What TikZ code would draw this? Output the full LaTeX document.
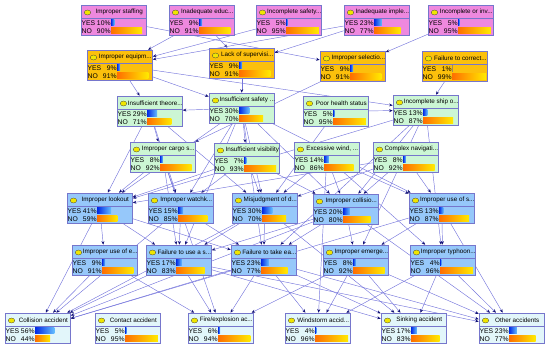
\documentclass[tikz,border=0pt]{standalone}
\usepackage{fontspec}
\setmainfont{Liberation Sans}
\usetikzlibrary{arrows.meta,shapes.geometric,backgrounds}
\definecolor{bnPink}  {RGB}{238,136,222}
\definecolor{bnOrange}{RGB}{252,192, 12}
\definecolor{bnGreen} {RGB}{204,246,212}
\definecolor{bnBlue}  {RGB}{150,200,250}
\definecolor{bnCyan}  {RGB}{226,246,250}
\definecolor{bnFrame} {RGB}{118,118,204}
\definecolor{bnEdge}  {RGB}{118,118,220}
\definecolor{bnTip}   {RGB}{ 20, 20,120}
\definecolor{bnBulb}  {RGB}{240,230,  0}
\definecolor{bnYesL}  {RGB}{  0, 40,230}
\definecolor{bnYesR}  {RGB}{100,190,255}
\definecolor{bnNoL}   {RGB}{255,110,  0}
\definecolor{bnNoR}   {RGB}{255,235,  0}

% #1 name, #2/#3 top-left corner, #4 fill, #5 title, #6 yes, #7 no
\newcommand{\bnnode}[7]{%
  \node[bnbox,fill=#4] (#1) at (#2+32.75,-#3-15.25) {};
  \draw[bnsep] (#2,-#3-13.5) -- (#2+65.5,-#3-13.5);
  \node[bulb] at (#2+6.5,-#3-7.5) {};
  \node[bntitle] at (#2+38.3,-#3-6.8) {#5};
  \node[bnval,anchor=west] at (#2+0.4,-#3-18) {YES};
  \node[bnval,anchor=east] at (#2+29.8,-#3-18) {#6\%};
  \node[bnval,anchor=west] at (#2+0.4,-#3-26) {NO};
  \node[bnval,anchor=east] at (#2+29.8,-#3-26) {#7\%};
  \path[yesbar] (#2+30,-#3-15) rectangle (#2+30+#6*0.345,-#3-21);
  \path[nobar] (#2+30,-#3-23) rectangle (#2+30+#7*0.345,-#3-29);
}

\begin{document}
\begin{tikzpicture}[x=1pt,y=1pt,
  bnbox/.style ={draw=bnFrame,line width=0.6pt,inner sep=0pt,
                 minimum width=65.5pt,minimum height=30.5pt},
  bnsep/.style ={draw=bnFrame,line width=0.5pt},
  bulb/.style  ={ellipse,draw=black!75,fill=bnBulb,line width=0.3pt,
                 inner sep=0pt,minimum width=6.5pt,minimum height=5pt},
  bntitle/.style={font=\fontsize{6.3}{7}\selectfont,inner sep=0pt},
  bnval/.style ={font=\fontsize{6.8}{7}\selectfont,inner sep=0pt},
  yesbar/.style={left color=bnYesL,right color=bnYesR},
  nobar/.style ={left color=bnNoL,right color=bnNoR},
  link/.style  ={draw=bnEdge,line width=0.45pt,
                 -{Stealth[length=3.6pt,width=3pt,color=bnTip]}}
]
\useasboundingbox (0,0) rectangle (550,-350);

% root causes
\bnnode{staff}{81}{5}{bnPink}{Improper staffing}{10}{90}
\bnnode{educ}{169}{5}{bnPink}{Inadequate educ...}{9}{91}
\bnnode{safe}{256}{5}{bnPink}{Incomplete safety...}{5}{95}
\bnnode{impl}{344}{5}{bnPink}{Inadequate imple...}{23}{77}
\bnnode{inv}{428}{5}{bnPink}{Incomplete or inv...}{5}{95}
% management
\bnnode{equip}{87}{50}{bnOrange}{Improper equipm...}{9}{91}
\bnnode{superv}{209}{48}{bnOrange}{Lack of supervisi...}{9}{91}
\bnnode{select}{320}{51}{bnOrange}{Improper selectio...}{9}{91}
\bnnode{correct}{422}{51}{bnOrange}{Failure to correct...}{1}{99}
% crew, ship and environment
\bnnode{theory}{117}{96}{bnGreen}{Insufficient theore...}{29}{71}
\bnnode{safety}{209}{93}{bnGreen}{Insufficient safety ...}{30}{70}
\bnnode{health}{303}{96}{bnGreen}{Poor health status}{5}{95}
\bnnode{shipo}{393}{95}{bnGreen}{Incomplete ship o...}{13}{87}
\bnnode{cargo}{130}{142}{bnGreen}{Improper cargo s...}{8}{92}
\bnnode{visib}{214}{143}{bnGreen}{Insufficient visibility}{7}{93}
\bnnode{wind}{294}{142}{bnGreen}{Excessive wind, ...}{14}{86}
\bnnode{navig}{373}{142}{bnGreen}{Complex navigati...}{8}{92}
% unsafe acts
\bnnode{lookout}{67}{193}{bnBlue}{Improper lookout}{41}{59}
\bnnode{watch}{148}{193}{bnBlue}{Improper watchk...}{15}{85}
\bnnode{misj}{232}{193}{bnBlue}{Misjudgment of d...}{30}{70}
\bnnode{colli}{313}{194}{bnBlue}{Improper collisio...}{20}{80}
\bnnode{usesys}{409}{193}{bnBlue}{Improper use of s...}{13}{87}
\bnnode{useeq}{72}{245}{bnBlue}{Improper use of e...}{9}{91}
\bnnode{failuse}{146}{245}{bnBlue}{Failure to use a s...}{17}{83}
\bnnode{failtake}{231}{245}{bnBlue}{Failure to take ea...}{23}{77}
\bnnode{emerg}{323}{245}{bnBlue}{Improper emerge...}{8}{92}
\bnnode{typh}{410}{245}{bnBlue}{Improper typhoon...}{4}{96}
% accidents
\bnnode{acoll}{5}{313}{bnCyan}{Collision accident}{56}{44}
\bnnode{acont}{95}{313}{bnCyan}{Contact accident}{5}{95}
\bnnode{afire}{188}{313}{bnCyan}{Fire/explosion ac...}{6}{94}
\bnnode{awind}{285}{313}{bnCyan}{Windstorm accid...}{4}{96}
\bnnode{asink}{381}{313}{bnCyan}{Sinking accident}{17}{83}
\bnnode{aother}{479}{313}{bnCyan}{Other accidents}{23}{77}

\begin{scope}[on background layer]
\foreach \a/\b in {staff/select,educ/equip,educ/superv,safe/equip,impl/equip,
    impl/superv,inv/select,equip/theory,equip/safety,equip/shipo,
    superv/safety,select/cargo,safety/theory,health/shipo,correct/shipo}
  \draw[link] (\a) -- (\b);
\foreach \a/\b in {theory/cargo,theory/lookout,theory/watch,theory/misj,
    safety/visib,safety/lookout,safety/watch,safety/misj,safety/colli,
    safety/usesys,safety/failuse,safety/failtake,health/misj,
    shipo/colli,shipo/lookout,shipo/failtake,shipo/emerg,shipo/typh}
  \draw[link] (\a) -- (\b);
\foreach \a/\b in {cargo/lookout,cargo/watch,cargo/failuse,cargo/afire,
    visib/lookout,visib/watch,visib/misj,visib/colli,
    wind/misj,wind/colli,wind/usesys,wind/typh,wind/awind,
    navig/lookout,navig/misj,navig/colli,navig/usesys}
  \draw[link] (\a) -- (\b);
\foreach \a/\b in {lookout/useeq,lookout/failuse,lookout/failtake,lookout/acoll,
    watch/failuse,watch/failtake,watch/acoll,
    misj/failuse,misj/failtake,misj/acoll,misj/asink,
    colli/failuse,colli/failtake,colli/emerg,colli/acoll,colli/aother,
    usesys/typh,usesys/emerg,usesys/aother,usesys/acoll}
  \draw[link] (\a) -- (\b);
\foreach \a/\b in {useeq/acoll,useeq/afire,
    failuse/acoll,failuse/afire,failuse/asink,failuse/aother,
    failtake/acoll,failtake/afire,failtake/asink,failtake/aother,failtake/awind,
    emerg/afire,emerg/asink,emerg/aother,emerg/awind,
    typh/awind,typh/asink,typh/aother}
  \draw[link] (\a) -- (\b);
\end{scope}
\end{tikzpicture}
\end{document}
